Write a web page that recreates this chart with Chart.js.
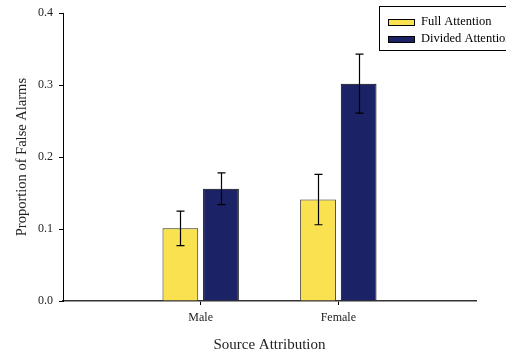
<!DOCTYPE html>
<html>
<head>
<meta charset="utf-8">
<script src="https://cdn.jsdelivr.net/npm/chart.js@4"></script>
<style>
  body { margin: 0; background: #fff; }
  canvas { display: block; }
</style>
</head>
<body>
<canvas id="chart" width="506" height="354"></canvas>
<script>
// values
const categories = ["Male", "Female"];
const seriesNames = ["Full Attention", "Divided Attention"];
const fullAttention = [0.101, 0.141];
const dividedAttention = [0.156, 0.302];
const fullErr = [0.024, 0.035];
const dividedErr = [0.022, 0.041];
const yTicks = [0.0, 0.1, 0.2, 0.3, 0.4];

const FONT = "'Liberation Serif', 'Times New Roman', serif";
const YELLOW = "#FAE150";
const NAVY = "#1B2265";

// empty slot on both sides so the two groups sit at 1/3 and 2/3 of the axis
const pad = arr => [null, ...arr, null];
const labels = ["", ...categories, ""];

const errorBars = {
  id: "errorBars",
  afterDatasetsDraw(chart) {
    const ctx = chart.ctx;
    const y = chart.scales.y;
    const errs = [fullErr, dividedErr];
    ctx.save();
    ctx.strokeStyle = "#000";
    ctx.lineWidth = 1.2;
    chart.data.datasets.forEach((ds, di) => {
      const meta = chart.getDatasetMeta(di);
      categories.forEach((c, i) => {
        const bar = meta.data[i + 1];
        const v = ds.data[i + 1];
        const e = errs[di][i];
        const x = Math.round(bar.x) + 0.5;
        const top = y.getPixelForValue(v + e);
        const bot = y.getPixelForValue(v - e);
        ctx.beginPath();
        ctx.moveTo(x, top); ctx.lineTo(x, bot);
        ctx.moveTo(x - 4, top); ctx.lineTo(x + 4, top);
        ctx.moveTo(x - 4, bot); ctx.lineTo(x + 4, bot);
        ctx.stroke();
      });
    });
    ctx.restore();
  }
};

const boxLegend = {
  id: "boxLegend",
  afterDraw(chart) {
    const ctx = chart.ctx;
    const colors = [YELLOW, NAVY];
    ctx.save();
    ctx.strokeStyle = "#000";
    ctx.lineWidth = 1;
    ctx.strokeRect(379.5, 6.5, 160, 44);
    ctx.font = "12.5px " + FONT;
    ctx.textBaseline = "middle";
    seriesNames.forEach((name, i) => {
      const cy = 22 + i * 17;
      ctx.fillStyle = colors[i];
      ctx.fillRect(388, cy - 3, 26, 6);
      ctx.strokeRect(388.5, cy - 2.5, 26, 6);
      ctx.fillStyle = "#000";
      ctx.fillText(name, 421, cy);
    });
    ctx.restore();
  }
};

new Chart(document.getElementById("chart"), {
  type: "bar",
  data: {
    labels: labels,
    datasets: [
      {
        label: seriesNames[0],
        data: pad(fullAttention),
        backgroundColor: YELLOW,
        borderColor: "#2e2b14",
        borderWidth: 1
      },
      {
        label: seriesNames[1],
        data: pad(dividedAttention),
        backgroundColor: NAVY,
        borderColor: "#000",
        borderWidth: 1
      }
    ]
  },
  options: {
    responsive: false,
    animation: false,
    categoryPercentage: 0.59,
    barPercentage: 0.88,
    layout: { padding: { top: 12, right: 30, left: 0, bottom: 0 } },
    plugins: {
      legend: { display: false },
      tooltip: { enabled: false }
    },
    scales: {
      x: {
        offset: false,
        grid: {
          offset: false,
          drawOnChartArea: false,
          drawTicks: true,
          tickLength: 4,
          color: c => (c.tick && c.tick.label ? "#000" : "rgba(0,0,0,0)")
        },
        border: { display: true, color: "#333", width: 1.6 },
        ticks: {
          color: "#222",
          padding: 6,
          maxRotation: 0,
          autoSkip: false,
          font: { family: FONT, size: 12 }
        },
        title: {
          display: true,
          text: "Source Attribution",
          color: "#222",
          padding: { top: 0, bottom: 0 },
          font: { family: FONT, size: 15 }
        },
        afterFit: s => { s.height = 53; }
      },
      y: {
        min: 0,
        max: 0.4,
        afterBuildTicks: s => { s.ticks = yTicks.map(v => ({ value: v })); },
        grid: {
          drawOnChartArea: false,
          drawTicks: true,
          tickLength: 4,
          color: "#000"
        },
        border: { display: true, color: "#000", width: 1 },
        ticks: {
          color: "#222",
          padding: 6,
          font: { family: FONT, size: 12 },
          callback: v => Number(v).toFixed(1)
        },
        title: {
          display: true,
          text: "Proportion of False Alarms",
          color: "#222",
          padding: { top: 13, bottom: 0 },
          font: { family: FONT, size: 14.5 }
        },
        afterFit: s => { s.width = 63; }
      }
    }
  },
  plugins: [errorBars, boxLegend]
});
</script>
</body>
</html>
